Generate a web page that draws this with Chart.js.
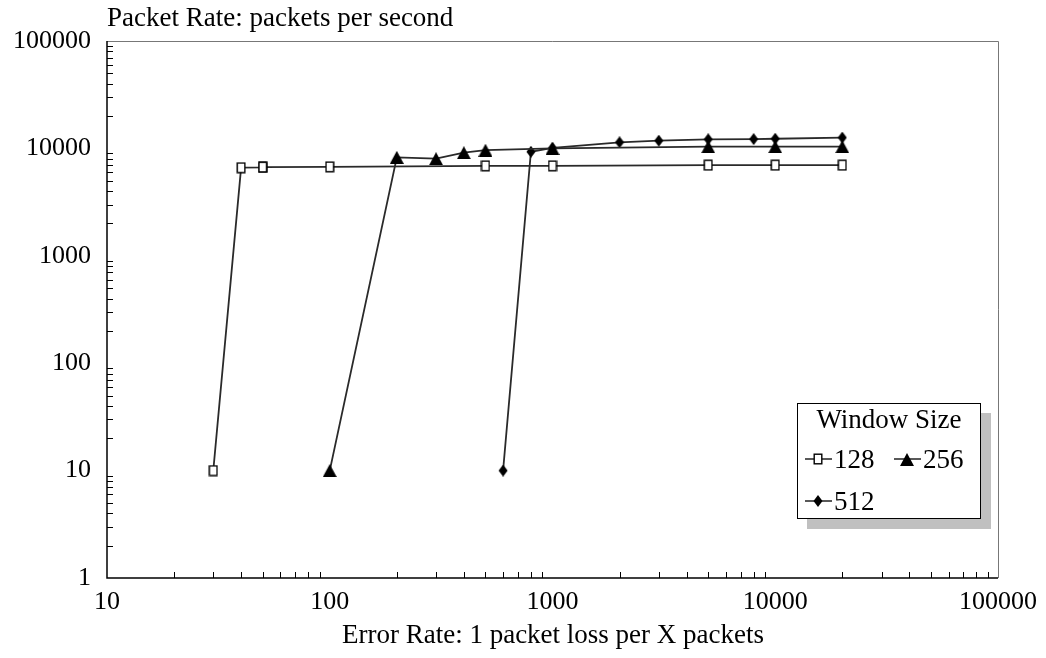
<!DOCTYPE html>
<html>
<head>
<meta charset="utf-8">
<script src="https://cdn.jsdelivr.net/npm/chart.js@4"></script>
<style>
	html, body { margin: 0; padding: 0; background: #fff; }
	#wrap { width: 1046px; height: 658px; }
</style>
</head>
<body>
<div id="wrap"><canvas id="packetRate"></canvas></div>
<script>
const xTicks = [10, 100, 1000, 10000, 100000];
const yTicks = [1, 10, 100, 1000, 10000, 100000];

const errRate128 = [30, 40, 50, 50, 100, 500, 1000, 5000, 10000, 20000];
const pps128 = [10, 6610, 6650, 6700, 6730, 6880, 6880, 6980, 6980, 6980];

const errRate256 = [100, 200, 300, 400, 500, 1000, 5000, 10000, 20000];
const pps256 = [10, 8260, 8020, 9120, 9620, 10000, 10370, 10370, 10370];

const errRate512 = [600, 800, 1000, 2000, 3000, 5000, 8000, 10000, 20000];
const pps512 = [10, 9300, 10100, 11400, 11800, 12160, 12200, 12300, 12600];

const seriesNames = ["128", "256", "512"];

const font = "Liberation Serif, Times New Roman, serif";
const ctx = document.getElementById("packetRate");

function points(xs, ys) {
	return xs.map((x, i) => ({ x, y: ys[i] }));
}

// marker images, used both for the data points and the legend
function makeMarker(style) {
	const cv = document.createElement("canvas");
	const w = style === "triangle" ? 14 : 10;
	const h = style === "triangle" ? 13 : 12;
	cv.width = w;
	cv.height = h;
	const c = cv.getContext("2d");
	c.fillStyle = "#000";
	if (style === "rect") {
		c.fillStyle = "#fff";
		c.fillRect(1, 1, w - 2, h - 2);
		c.strokeStyle = "#000";
		c.lineWidth = 1.4;
		c.strokeRect(1.2, 1.2, w - 2.4, h - 2.4);
	} else if (style === "triangle") {
		c.beginPath();
		c.moveTo(w / 2, 0);
		c.lineTo(w, h);
		c.lineTo(0, h);
		c.closePath();
		c.fill();
	} else {
		c.beginPath();
		c.moveTo(w / 2, 0);
		c.lineTo(w - 0.5, h / 2);
		c.lineTo(w / 2, h);
		c.lineTo(0.5, h / 2);
		c.closePath();
		c.fill();
	}
	return cv;
}
const markers = [makeMarker("rect"), makeMarker("triangle"), makeMarker("diamond")];

// inward minor ticks, frame, titles and the boxed legend
const decor = {
	id: "decor",
	afterDraw(chart) {
		const c = chart.ctx;
		const a = chart.chartArea;
		const xs = chart.scales.x;
		const ys = chart.scales.y;
		c.save();
		c.strokeStyle = "#000";
		c.lineWidth = 1;
		for (let d = 10; d < 100000; d *= 10) {
			for (let m = 2; m <= 9; m++) {
				const px = Math.round(xs.getPixelForValue(d * m)) + 0.5;
				c.beginPath();
				c.moveTo(px, a.bottom);
				c.lineTo(px, a.bottom - 6);
				c.stroke();
			}
		}
		for (let d = 1; d < 100000; d *= 10) {
			for (let m = 2; m <= 9; m++) {
				const py = Math.round(ys.getPixelForValue(d * m)) + 0.5;
				c.beginPath();
				c.moveTo(a.left, py);
				c.lineTo(a.left + 6, py);
				c.stroke();
			}
		}
		// frame
		c.strokeStyle = "#777";
		c.beginPath();
		c.moveTo(a.left, a.top + 0.5);
		c.lineTo(a.right + 0.5, a.top + 0.5);
		c.lineTo(a.right + 0.5, a.bottom);
		c.stroke();
		c.strokeStyle = "#000";
		c.lineWidth = 1.5;
		c.beginPath();
		c.moveTo(a.left, a.top);
		c.lineTo(a.left, a.bottom);
		c.lineTo(a.right, a.bottom);
		c.stroke();

		// titles
		c.fillStyle = "#000";
		c.font = "27px " + font;
		c.textBaseline = "alphabetic";
		c.textAlign = "left";
		c.fillText("Packet Rate: packets per second", 107, 26);
		c.textAlign = "center";
		c.fillText("Error Rate: 1 packet loss per X packets", 553, 643);

		// legend
		c.fillStyle = "#c0c0c0";
		c.fillRect(807, 413, 184, 116);
		c.fillStyle = "#fff";
		c.fillRect(797, 403, 184, 116);
		c.strokeStyle = "#000";
		c.lineWidth = 1;
		c.strokeRect(797.5, 403.5, 183, 115);
		c.fillStyle = "#000";
		c.textAlign = "center";
		c.fillText("Window Size", 889, 428);
		const items = [
			{ x: 805, y: 459, label: seriesNames[0] },
			{ x: 894, y: 459, label: seriesNames[1] },
			{ x: 805, y: 501, label: seriesNames[2] },
		];
		c.textAlign = "left";
		items.forEach((it, i) => {
			c.strokeStyle = "#222";
			c.lineWidth = 1.5;
			c.beginPath();
			c.moveTo(it.x, it.y);
			c.lineTo(it.x + 27, it.y);
			c.stroke();
			const m = markers[i];
			c.drawImage(m, Math.round(it.x + 13 - m.width / 2), Math.round(it.y - m.height / 2));
			c.fillStyle = "#000";
			c.fillText(it.label, it.x + 29, it.y + 9);
		});
		c.restore();
	},
};

function dataset(i, xs, ys) {
	return {
		label: seriesNames[i],
		data: points(xs, ys),
		borderColor: "#2a2a2a",
		borderWidth: 1.8,
		pointStyle: markers[i],
		pointRadius: 6,
	};
}

new Chart(ctx, {
	type: "line",
	data: {
		datasets: [
			dataset(0, errRate128, pps128),
			dataset(1, errRate256, pps256),
			dataset(2, errRate512, pps512),
		],
	},
	options: {
		responsive: true,
		maintainAspectRatio: false,
		animation: false,
		layout: { padding: { top: 41, right: 46, left: 0, bottom: 0 } },
		plugins: {
			legend: { display: false },
			tooltip: { enabled: false },
		},
		scales: {
			x: {
				type: "logarithmic",
				min: 10,
				max: 100000,
				afterBuildTicks: (s) => { s.ticks = xTicks.map((v) => ({ value: v, major: true })); },
				afterFit: (s) => { s.height = 80; },
				grid: { display: false, drawTicks: false },
				border: { display: false },
				ticks: {
					color: "#000",
					font: { family: font, size: 26 },
					padding: 9,
					maxRotation: 0,
					autoSkip: false,
					callback: (v) => String(v),
				},
			},
			y: {
				type: "logarithmic",
				min: 1,
				max: 100000,
				afterBuildTicks: (s) => { s.ticks = yTicks.map((v) => ({ value: v, major: true })); },
				afterFit: (s) => { s.width = 107; },
				grid: { display: false, drawTicks: false },
				border: { display: false },
				ticks: {
					color: "#000",
					font: { family: font, size: 26 },
					padding: 16,
					autoSkip: false,
					callback: (v) => String(v),
				},
			},
		},
	},
	plugins: [decor],
});
</script>
</body>
</html>
